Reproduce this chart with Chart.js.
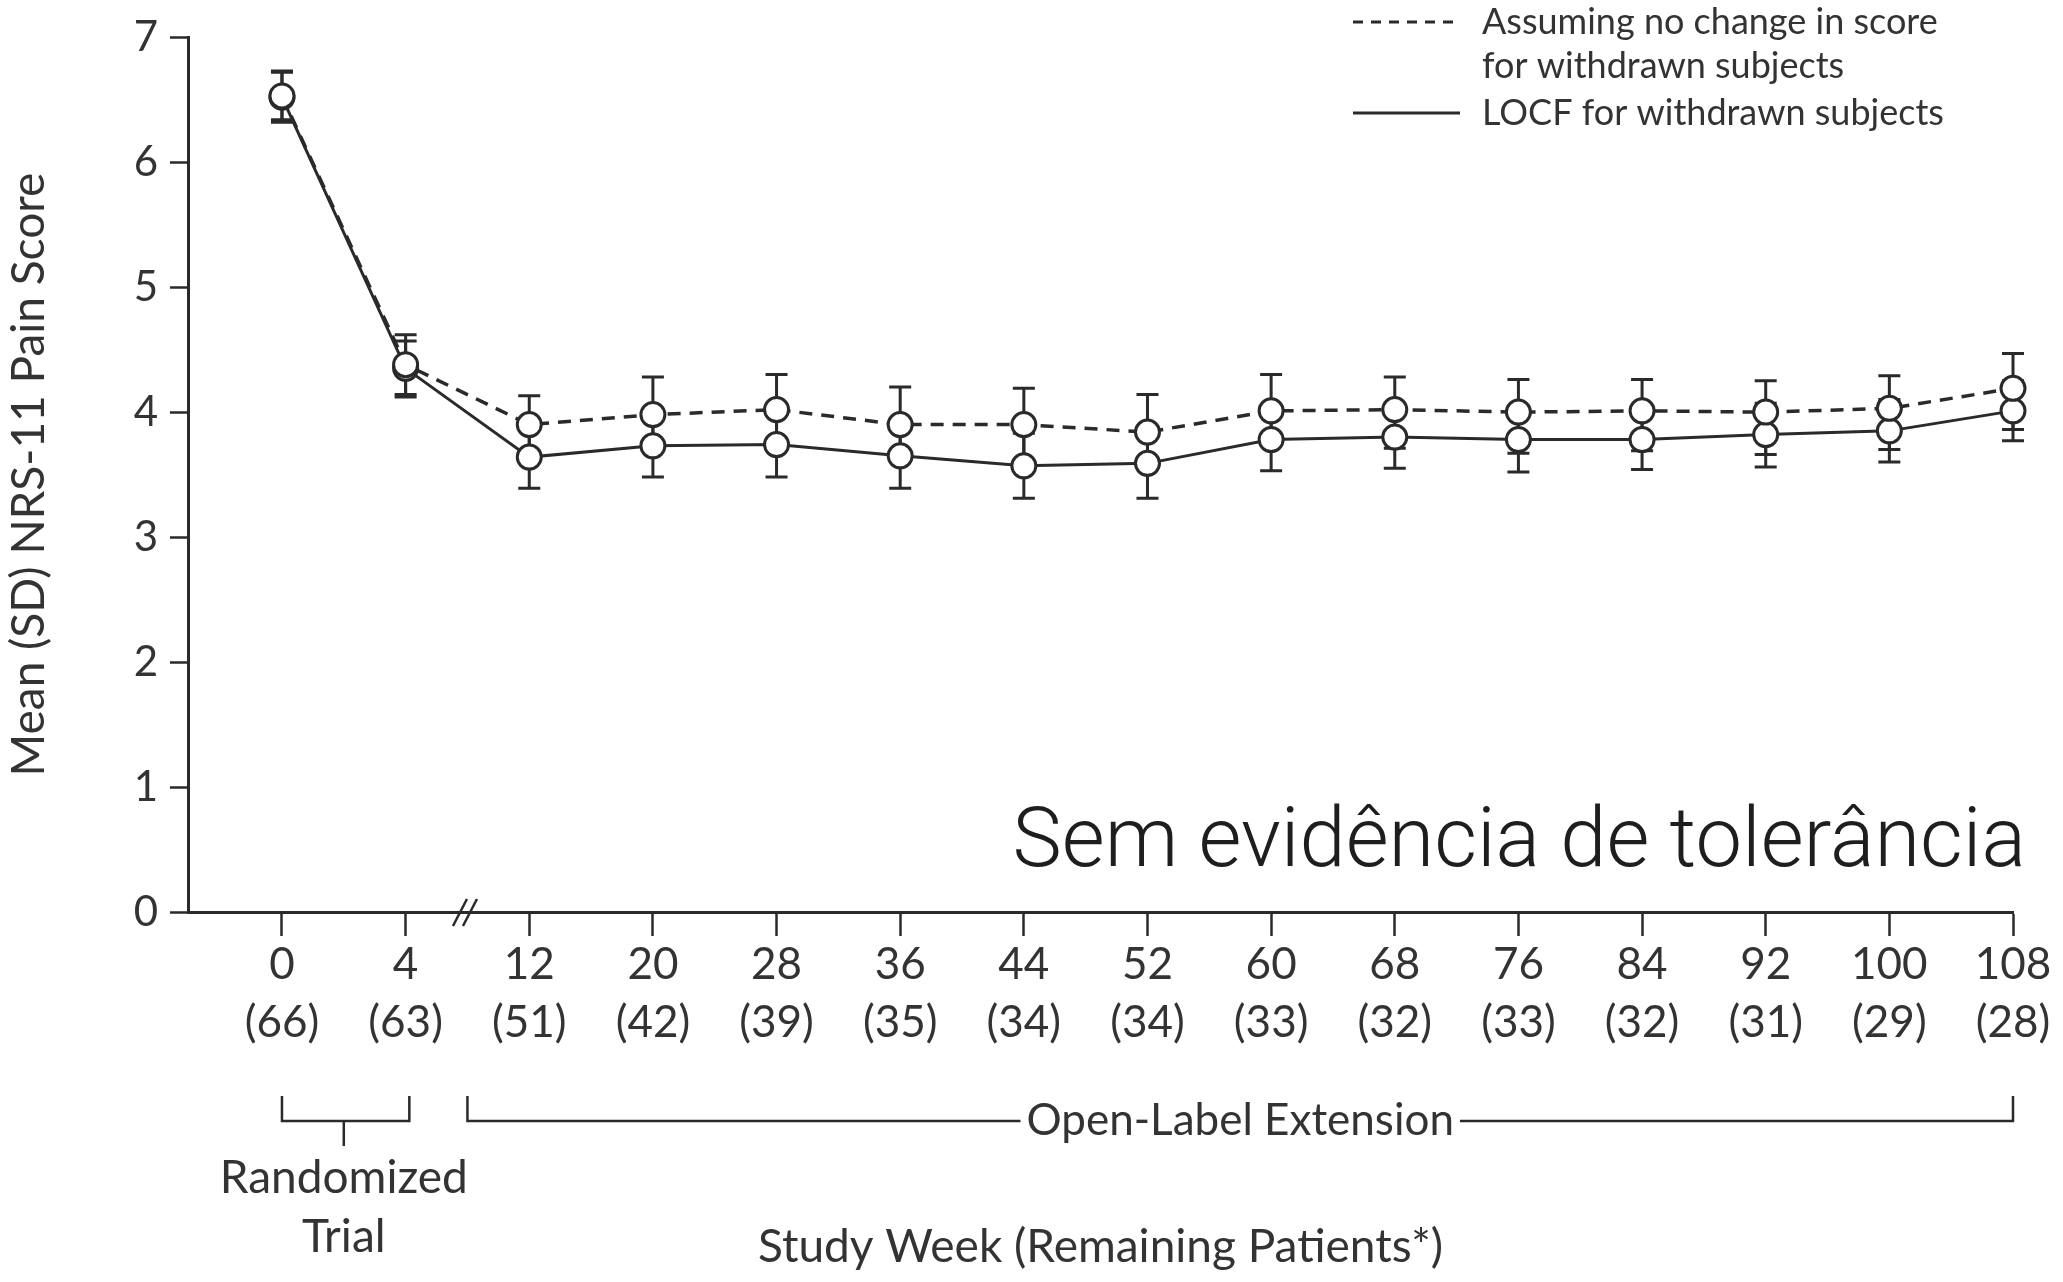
<!DOCTYPE html>
<html>
<head>
<meta charset="utf-8">
<title>NRS-11 Pain Score</title>
<script src="https://cdn.jsdelivr.net/npm/chart.js@4.4.1/dist/chart.umd.min.js"></script>
<style>
    html, body { margin: 0; padding: 0; background: #fff; }
    canvas { display: block; }
</style>
</head>
<body>
<canvas id="chart" width="2063" height="1282"></canvas>
<script>
// Werte
const weeks = ["0", "4", "12", "20", "28", "36", "44", "52", "60", "68", "76", "84", "92", "100", "108"];
const patients = ["(66)", "(63)", "(51)", "(42)", "(39)", "(35)", "(34)", "(34)", "(33)", "(32)", "(33)", "(32)", "(31)", "(29)", "(28)"];

// gestrichelt: keine Änderung für ausgeschiedene Patienten
const noChangeMean = [6.53, 4.38, 3.90, 3.98, 4.02, 3.90, 3.90, 3.84, 4.01, 4.02, 4.00, 4.01, 4.00, 4.03, 4.19];
const noChangeHigh = [6.73, 4.62, 4.13, 4.28, 4.30, 4.20, 4.19, 4.14, 4.30, 4.28, 4.26, 4.26, 4.25, 4.29, 4.47];
const noChangeLow  = [6.34, 4.14, 3.67, 3.70, 3.76, 3.62, 3.61, 3.56, 3.74, 3.71, 3.67, 3.69, 3.66, 3.70, 3.86];

// durchgezogen: LOCF
const locfMean = [6.52, 4.35, 3.64, 3.73, 3.74, 3.65, 3.57, 3.59, 3.78, 3.80, 3.78, 3.78, 3.82, 3.85, 4.01];
const locfHigh = [6.72, 4.57, 3.89, 3.98, 4.00, 3.91, 3.83, 3.86, 4.02, 4.04, 4.04, 4.02, 4.07, 4.10, 4.25];
const locfLow  = [6.32, 4.12, 3.39, 3.48, 3.48, 3.39, 3.31, 3.31, 3.53, 3.55, 3.52, 3.54, 3.56, 3.60, 3.77];

const legendLines = [
    ["Assuming no change in score", "for withdrawn subjects"],
    ["LOCF for withdrawn subjects"],
];
const yTitle = "Mean (SD) NRS-11 Pain Score";
const xTitle = "Study Week (Remaining Patients*)";
const phaseLabels = [["Randomized", "Trial"], "Open-Label Extension"];
const note = "Sem evidência de tolerância";

const ink = "#2a2a2a";
const textInk = "#333";
const capW = 11;

const toPoints = (arr) => arr.map((v, i) => ({ x: i, y: v }));

// Fehlerbalken, Achsenbruch, Klammern, Legende
const decor = {
    id: "decor",
    beforeDatasetsDraw: (chart) => {
        const { ctx, scales: { x, y } } = chart;
        ctx.save();
        ctx.strokeStyle = ink;
        ctx.lineWidth = 3;
        [[noChangeHigh, noChangeLow], [locfHigh, locfLow]].forEach(([hi, lo]) => {
            hi.forEach((h, i) => {
                const px = x.getPixelForValue(i);
                const top = y.getPixelForValue(h);
                const bot = y.getPixelForValue(lo[i]);
                ctx.beginPath();
                ctx.moveTo(px, top); ctx.lineTo(px, bot);
                ctx.moveTo(px - capW, top); ctx.lineTo(px + capW, top);
                ctx.moveTo(px - capW, bot); ctx.lineTo(px + capW, bot);
                ctx.stroke();
            });
        });
        ctx.restore();
    },
    afterDraw: (chart) => {
        const { ctx, scales: { x, y } } = chart;
        const axisY = y.getPixelForValue(0);
        ctx.save();
        ctx.strokeStyle = ink;
        ctx.fillStyle = textInk;
        ctx.lineWidth = 2.5;

        // Achsenbruch "//"
        const bx = x.getPixelForValue(1.48);
        [-5, 5].forEach((dx) => {
            ctx.beginPath();
            ctx.moveTo(bx + dx - 7, axisY + 14);
            ctx.lineTo(bx + dx + 7, axisY - 13);
            ctx.stroke();
        });

        // Klammer Randomized Trial
        const bTop = 1096, bLine = 1121;
        const r0 = x.getPixelForValue(0), r1 = x.getPixelForValue(1.03), rm = x.getPixelForValue(0.5);
        ctx.beginPath();
        ctx.moveTo(r0, bTop); ctx.lineTo(r0, bLine); ctx.lineTo(r1, bLine); ctx.lineTo(r1, bTop);
        ctx.moveTo(rm, bLine); ctx.lineTo(rm, bLine + 25);
        ctx.stroke();

        ctx.font = "46px Lato";
        ctx.textAlign = "center";
        ctx.textBaseline = "middle";
        ctx.fillText(phaseLabels[0][0], rm, 1178);
        ctx.fillText(phaseLabels[0][1], rm, 1237);

        // Klammer Open-Label Extension
        ctx.font = "44px Lato";
        const o0 = x.getPixelForValue(1.5), o1 = x.getPixelForValue(14);
        const om = (o0 + o1) / 2;
        const half = ctx.measureText(phaseLabels[1]).width / 2 + 6;
        ctx.beginPath();
        ctx.moveTo(o0, bTop); ctx.lineTo(o0, bLine); ctx.lineTo(om - half, bLine);
        ctx.moveTo(om + half, bLine); ctx.lineTo(o1, bLine); ctx.lineTo(o1, bTop);
        ctx.stroke();
        ctx.fillText(phaseLabels[1], om, bLine);

        // Legende
        ctx.font = "36px Lato";
        ctx.textAlign = "left";
        ctx.lineWidth = 3;
        ctx.setLineDash([10, 8]);
        ctx.beginPath(); ctx.moveTo(1353, 22); ctx.lineTo(1460, 22); ctx.stroke();
        ctx.setLineDash([]);
        ctx.beginPath(); ctx.moveTo(1353, 113); ctx.lineTo(1460, 113); ctx.stroke();
        ctx.fillText(legendLines[0][0], 1482, 22);
        ctx.fillText(legendLines[0][1], 1482, 66);
        ctx.fillText(legendLines[1][0], 1482, 113);

        // Anmerkung
        ctx.font = "300 83px Roboto";
        ctx.fillStyle = "#1e1e1e";
        ctx.textAlign = "right";
        ctx.textBaseline = "alphabetic";
        ctx.fillText(note, 2026, 866);
        ctx.restore();
    },
};

new Chart(document.getElementById("chart"), {
    type: "line",
    data: {
        datasets: [
            {
                label: legendLines[0].join(" "),
                data: toPoints(noChangeMean),
                borderColor: ink,
                borderWidth: 3.5,
                borderDash: [13, 9],
                pointRadius: 12,
                pointBorderWidth: 3,
                pointBackgroundColor: "#fff",
                pointBorderColor: ink,
                tension: 0,
                clip: false,
            },
            {
                label: legendLines[1][0],
                data: toPoints(locfMean),
                borderColor: ink,
                borderWidth: 3,
                pointRadius: 12,
                pointBorderWidth: 3,
                pointBackgroundColor: "#fff",
                pointBorderColor: ink,
                tension: 0,
                clip: false,
            },
        ],
    },
    options: {
        responsive: false,
        animation: false,
        devicePixelRatio: 1,
        layout: { padding: { top: 33, right: 50, left: 0, bottom: 0 } },
        plugins: { legend: { display: false }, tooltip: { enabled: false } },
        scales: {
            x: {
                type: "linear",
                min: -0.76,
                max: 14,
                afterFit: (scale) => { scale.height = 370; },
                afterBuildTicks: (scale) => { scale.ticks = weeks.map((w, i) => ({ value: i })); },
                grid: { drawOnChartArea: false, tickLength: 24, tickWidth: 2.5, tickColor: ink },
                border: { color: ink, width: 3 },
                ticks: {
                    autoSkip: false,
                    maxRotation: 0,
                    padding: 0,
                    color: textInk,
                    font: { family: "Lato", size: 44, lineHeight: 1.32 },
                    callback: (value) => [weeks[Math.round(value)], patients[Math.round(value)]],
                },
                title: {
                    display: true,
                    text: xTitle,
                    color: textInk,
                    font: { family: "Lato", size: 46, lineHeight: 1.2 },
                    padding: { top: 0, bottom: 7 },
                },
            },
            y: {
                min: 0,
                max: 7,
                afterFit: (scale) => { scale.width = 188; },
                grid: { drawOnChartArea: false, tickLength: 18, tickWidth: 2.5, tickColor: ink },
                border: { color: ink, width: 3 },
                ticks: {
                    stepSize: 1,
                    padding: 12,
                    color: textInk,
                    font: { family: "Lato", size: 42, lineHeight: 1.2 },
                },
                title: {
                    display: true,
                    text: yTitle,
                    color: textInk,
                    font: { family: "Lato", size: 46, lineHeight: 1.2 },
                    padding: { top: 2, bottom: 0 },
                },
            },
        },
    },
    plugins: [decor],
});
</script>
</body>
</html>
